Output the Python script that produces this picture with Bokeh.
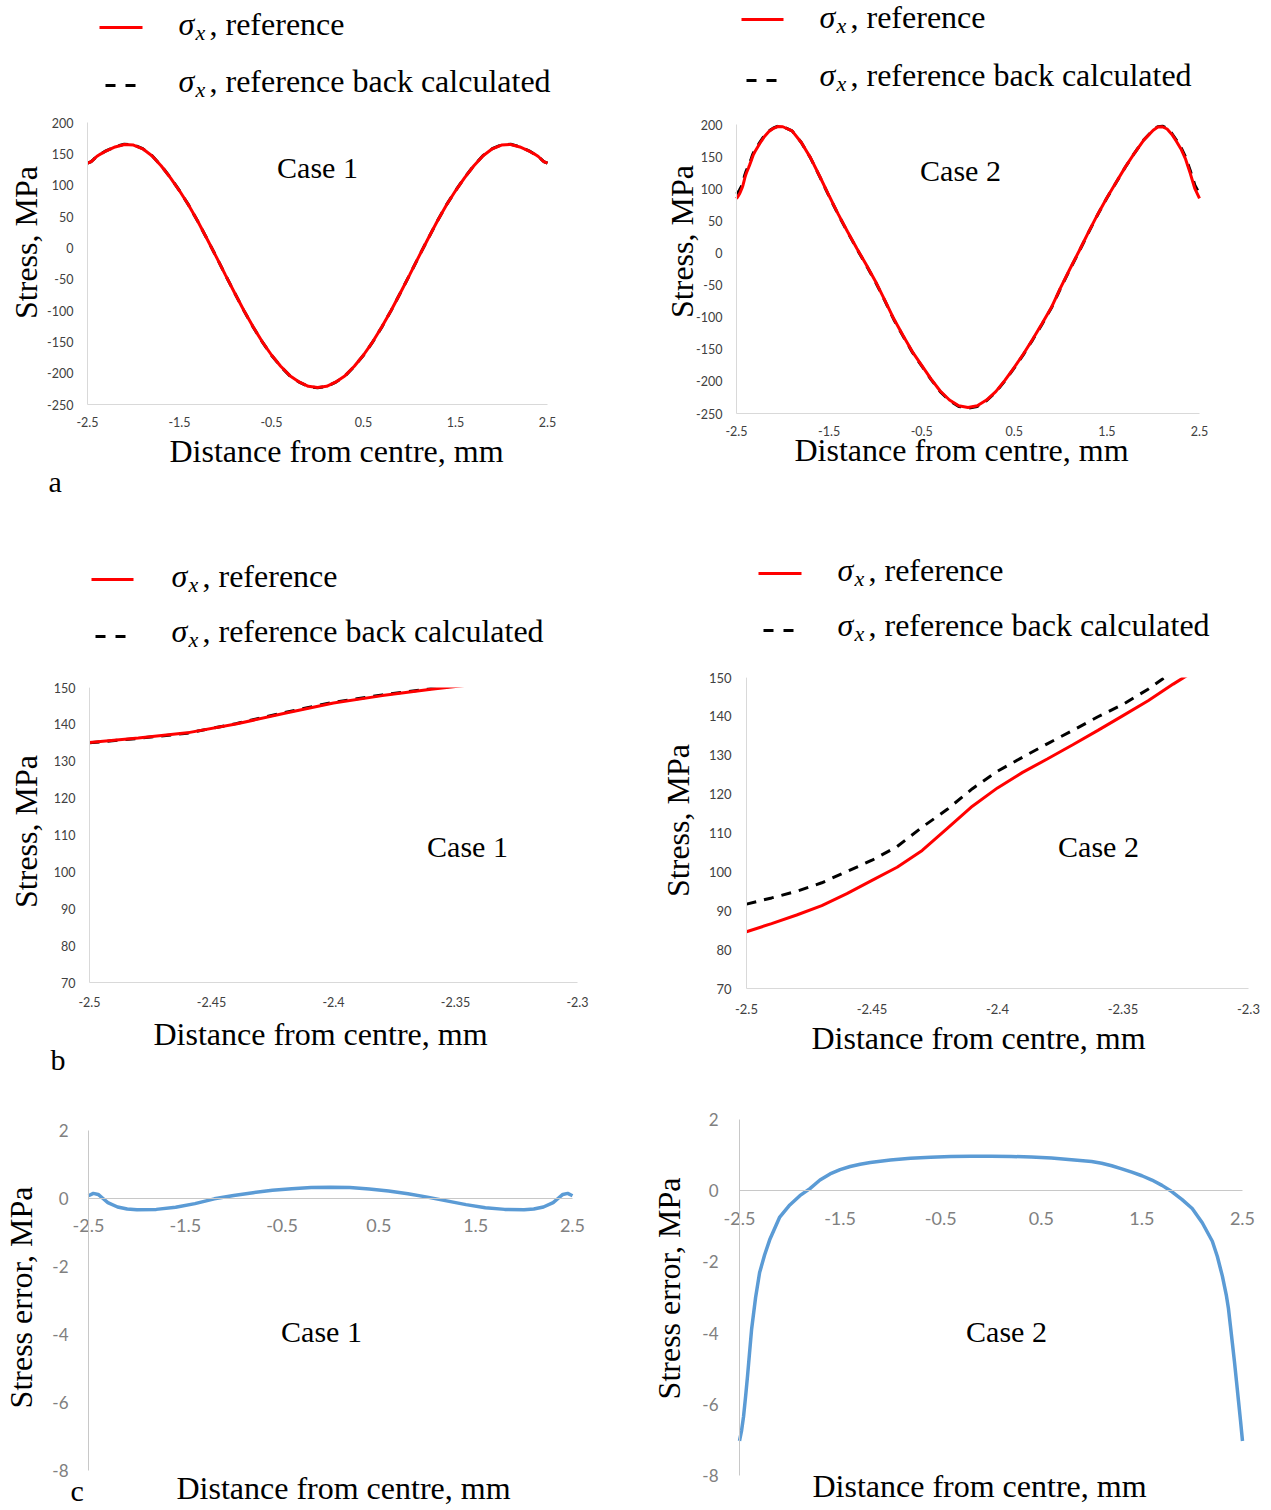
import math
from bokeh.plotting import figure
from bokeh.layouts import column, row
from bokeh.models import LinearAxis, FixedTicker, Range1d, BoxAnnotation
from bokeh.core.properties import value
from bokeh.embed import file_html
from bokeh.resources import INLINE

SERIF = "Liberation Serif"
SANS = "Lato"
RED = "#ff0000"
BLUE = "#5b9bd5"

# ---------------- data ----------------
# Case 1: sigma_x reference / back calculated (MPa) vs distance (mm)
x_case1 = [-2.5, -2.48, -2.46, -2.44, -2.42, -2.40, -2.38, -2.36, -2.34, -2.3,
           -2.2, -2.1, -2.0, -1.9, -1.8, -1.7, -1.6, -1.5, -1.4, -1.3, -1.2, -1.1,
           -1.0, -0.9, -0.8, -0.7, -0.6, -0.5, -0.4, -0.3, -0.2, -0.1, 0.0,
           0.1, 0.2, 0.3, 0.4, 0.5, 0.6, 0.7, 0.8, 0.9, 1.0, 1.1, 1.2, 1.3, 1.4,
           1.5, 1.6, 1.7, 1.8, 1.9, 2.0, 2.1, 2.2, 2.3, 2.34, 2.36, 2.38, 2.40,
           2.42, 2.44, 2.46, 2.48, 2.5]
ref_case1 = [135.1, 136.3, 137.7, 140.1, 143.0, 145.8, 147.8, 149.5, 151.0, 154.5,
             161.0, 165.0, 164.0, 158.0, 147.0, 131.0, 112.0, 91.0, 68.0, 42.0, 14.0, -14.5,
             -43.5, -72.0, -100.0, -126.0, -150.0, -171.0, -189.0, -204.0, -214.0, -221.0, -223.0,
             -221.0, -214.0, -204.0, -189.0, -171.0, -150.0, -126.0, -100.0, -72.0, -43.5, -14.5, 14.0, 42.0, 68.0,
             91.0, 112.0, 131.0, 147.0, 158.0, 164.0, 165.0, 161.0, 154.5, 151.0, 149.5, 147.8, 145.8,
             143.0, 140.1, 137.7, 136.3, 135.1]
back_case1 = [135.0, 136.2, 137.6, 140.2, 143.2, 146.0, 148.0, 149.7, 151.2, 154.7,
              161.3, 165.3, 164.3, 158.3, 147.3, 131.3, 112.2, 91.2, 68.1, 42.0, 14.0, -14.4,
              -43.6, -72.1, -100.2, -126.2, -150.2, -171.3, -189.3, -204.3, -214.3, -221.3, -223.3,
              -221.3, -214.3, -204.3, -189.3, -171.3, -150.2, -126.2, -100.2, -72.1, -43.6, -14.4, 14.0, 42.0, 68.1,
              91.2, 112.2, 131.3, 147.3, 158.3, 164.3, 165.3, 161.3, 154.7, 151.2, 149.7, 148.0, 146.0,
              143.2, 140.2, 137.6, 136.2, 135.0]

# Case 2
x_case2 = [-2.5, -2.49, -2.48, -2.47, -2.46, -2.45, -2.44, -2.43, -2.42, -2.41,
           -2.40, -2.39, -2.38, -2.37, -2.36, -2.35, -2.34, -2.33, -2.32, -2.3,
           -2.25, -2.2, -2.15, -2.1, -2.05, -2.0, -1.9, -1.8, -1.7, -1.6, -1.5,
           -1.4, -1.3, -1.2, -1.1, -1.0, -0.9, -0.8, -0.7, -0.6, -0.5, -0.4,
           -0.3, -0.2, -0.1, 0.0, 0.1, 0.2, 0.3, 0.4, 0.5, 0.6, 0.7, 0.8, 0.9,
           1.0, 1.1, 1.2, 1.3, 1.4, 1.5, 1.6, 1.7, 1.8, 1.9, 2.0, 2.05, 2.1,
           2.15, 2.2, 2.25, 2.3, 2.35, 2.4, 2.45, 2.5]
ref_case2 = [84.6, 86.7, 88.9, 91.3, 94.4, 97.8, 101.2, 105.5, 111.2, 116.9,
             121.6, 125.6, 129.1, 132.7, 136.4, 140.2, 144.0, 148.3, 152.3, 158.0,
             170.0, 181.0, 189.0, 194.0, 197.0, 196.5, 190.0, 172.0, 148.0, 119.0, 89.0,
             60.0, 33.0, 7.0, -18.0, -44.0, -73.0, -103.0, -129.0, -154.0, -175.0, -196.0,
             -215.0, -229.0, -238.0, -240.6, -238.0, -229.0, -216.0, -198.0, -178.0, -157.0, -134.0, -110.0, -85.0,
             -54.0, -25.0, 3.0, 32.0, 60.0, 86.0, 110.0, 134.0, 156.0, 176.0, 191.0, 196.0, 196.5,
             193.0, 185.0, 174.0, 162.0, 146.0, 124.0, 100.0, 85.0]
back_case2 = [91.7, 93.3, 95.0, 97.2, 100.1, 103.0, 106.5, 111.5, 116.1, 121.4,
              125.9, 129.5, 133.0, 136.4, 139.9, 143.1, 147.0, 151.5, 155.0, 160.3,
              171.8, 182.4, 189.9, 194.7, 197.4, 196.7, 190.1, 171.9, 147.7, 118.5, 88.4,
              59.3, 32.3, 6.2, -18.8, -44.9, -73.9, -103.9, -129.9, -154.9, -175.9, -196.9,
              -215.9, -230.0, -239.0, -241.6, -239.0, -230.0, -216.9, -198.9, -178.9, -157.9, -134.9, -110.9, -85.8,
              -54.8, -25.8, 2.3, 31.4, 59.5, 85.6, 109.7, 133.9, 156.0, 176.3, 191.5, 196.7, 197.4,
              194.2, 186.4, 175.9, 164.4, 149.2, 128.3, 105.6, 92.0]

# Stress error (MPa)
x_err1 = [-2.5, -2.45, -2.4, -2.35, -2.3, -2.2, -2.1, -2.0, -1.8, -1.6, -1.4, -1.2,
          -1.0, -0.8, -0.6, -0.4, -0.2, 0.0, 0.2, 0.4, 0.6, 0.8, 1.0, 1.2, 1.4,
          1.6, 1.8, 2.0, 2.1, 2.2, 2.3, 2.35, 2.4, 2.45, 2.5]
err_case1 = [0.08, 0.15, 0.12, 0.0, -0.12, -0.25, -0.31, -0.33, -0.32, -0.26, -0.15, -0.01,
             0.09, 0.17, 0.24, 0.29, 0.32, 0.33, 0.32, 0.28, 0.22, 0.14, 0.04, -0.07, -0.18,
             -0.27, -0.32, -0.33, -0.31, -0.25, -0.12, 0.0, 0.12, 0.15, 0.08]

x_err2 = [-2.5, -2.48, -2.46, -2.44, -2.42, -2.40, -2.38, -2.36, -2.34, -2.3, -2.25,
          -2.2, -2.1, -2.0, -1.9, -1.8, -1.7, -1.6, -1.5, -1.4, -1.3, -1.2, -1.0,
          -0.8, -0.6, -0.4, -0.2, 0.0, 0.2, 0.4, 0.6, 0.8, 1.0, 1.1, 1.2, 1.3, 1.4, 1.5,
          1.6, 1.7, 1.8, 1.9, 2.0, 2.1, 2.2, 2.25, 2.3, 2.34, 2.36, 2.38, 2.40,
          2.42, 2.44, 2.46, 2.48, 2.5]
err_case2 = [-7.03, -6.75, -6.35, -5.8, -5.2, -4.55, -3.9, -3.45, -3.0, -2.3, -1.8,
             -1.38, -0.74, -0.4, -0.14, 0.06, 0.3, 0.47, 0.59, 0.68, 0.745, 0.79, 0.86,
             0.91, 0.94, 0.96, 0.97, 0.97, 0.96, 0.95, 0.92, 0.87, 0.82, 0.77, 0.7, 0.615, 0.52, 0.42,
             0.3, 0.15, -0.03, -0.25, -0.5, -0.9, -1.42, -1.85, -2.4, -2.95, -3.3, -3.8, -4.3,
             -4.8, -5.35, -5.9, -6.45, -7.03]

# tick values / labels
xt_full = [-2.5, -1.5, -0.5, 0.5, 1.5, 2.5]
xt_full_labels = ["-2.5", "-1.5", "-0.5", "0.5", "1.5", "2.5"]
yt_stress = [-250, -200, -150, -100, -50, 0, 50, 100, 150, 200]
yt_stress_labels = ["-250", "-200", "-150", "-100", "-50", "0", "50", "100", "150", "200"]
xt_zoom = [-2.5, -2.45, -2.4, -2.35, -2.3]
xt_zoom_labels = ["-2.5", "-2.45", "-2.4", "-2.35", "-2.3"]
yt_zoom = [70, 80, 90, 100, 110, 120, 130, 140, 150]
yt_zoom_labels = ["70", "80", "90", "100", "110", "120", "130", "140", "150"]
yt_err = [-8, -6, -4, -2, 0, 2]
yt_err_labels = ["-8", "-6", "-4", "-2", "0", "2"]

legend_ref = ", reference"
legend_back = ", reference back calculated"
title_x = "Distance from centre, mm"
title_y = "Stress, MPa"
title_y_err = "Stress error, MPa"

BASE_SHIFT = 0.36  # em offset so that the given Y is the visual text baseline


# ---------------- helpers ----------------
class Block:
    """One figure whose frame fills the whole block; the data box sits at a
    given pixel rectangle inside it (page pixels, origin top-left)."""

    def __init__(self, ox, oy, w, h, fbox, xr, yr):
        X0, X1, Y0, Y1 = fbox
        self.X0, self.Y0 = X0, Y0
        self.xmin, self.xmax = xr
        self.ymin, self.ymax = yr
        self.sx = (xr[1] - xr[0]) / (X1 - X0)
        self.sy = (yr[1] - yr[0]) / (Y1 - Y0)
        xs = xr[0] - (X0 - ox) * self.sx
        xe = xr[1] + (ox + w - X1) * self.sx
        ye = yr[1] + (Y0 - oy) * self.sy
        ys = yr[0] - (oy + h - Y1) * self.sy
        p = figure(width=w, height=h, x_range=Range1d(xs, xe), y_range=Range1d(ys, ye),
                   min_border=0, x_axis_location=None, y_axis_location=None,
                   toolbar_location=None, output_backend="svg", title=None)
        p.outline_line_color = None
        p.grid.visible = False
        p.background_fill_color = "white"
        p.border_fill_color = "white"
        self.p = p

    def d(self, X, Y):
        return (self.xmin + (X - self.X0) * self.sx, self.ymax - (Y - self.Y0) * self.sy)

    def axes(self, xt, xl, yt, yl, xsize, ysize, color, xstand, ystand,
             line_color, x_at=None):
        xa = LinearAxis(fixed_location=self.ymin if x_at is None else x_at,
                        bounds=(self.xmin, self.xmax))
        ya = LinearAxis(fixed_location=self.xmin, bounds=(self.ymin, self.ymax))
        for ax, ticks, labels, size, stand in (
                (xa, xt, xl, xsize, xstand), (ya, yt, yl, ysize, ystand)):
            ax.ticker = FixedTicker(ticks=ticks)
            ax.major_label_overrides = {t: s for t, s in zip(ticks, labels)}
            ax.major_tick_out = 0
            ax.major_tick_in = 0
            ax.minor_tick_out = 0
            ax.minor_tick_in = 0
            ax.major_tick_line_color = None
            ax.minor_tick_line_color = None
            ax.axis_line_color = line_color
            ax.axis_line_width = 1
            ax.major_label_text_font = SANS
            ax.major_label_text_font_size = size
            ax.major_label_text_color = color
            ax.major_label_standoff = stand
        self.p.add_layout(xa, "below")
        self.p.add_layout(ya, "left")

    def text(self, X, Y, txt, size, style="normal", align="left", angle=0.0):
        # Y is the visual baseline in page pixels
        x, y = self.d(X, Y - BASE_SHIFT * size)
        self.p.text(x=[x], y=[y], text=[txt], text_font=value(SERIF),
                    text_font_size=value(f"{size}px"), text_font_style=style,
                    text_align=align, text_baseline="alphabetic", angle=angle,
                    text_color="black", level="overlay")

    def vtitle(self, X, Y, txt, size):
        x, y = self.d(X, Y)
        self.p.text(x=[x], y=[y], text=[txt], text_font=value(SERIF),
                    text_font_size=value(f"{size}px"), text_align="center",
                    text_baseline="middle", angle=math.pi / 2,
                    text_color="black", level="overlay")

    def legend_entry(self, X0, X1, Yl, color, dash, Xt, Yb, txt):
        xa, ya = self.d(X0, Yl)
        xb, _ = self.d(X1, Yl)
        self.p.line(x=[xa, xb], y=[ya, ya], line_color=color, line_width=3,
                    line_dash=dash, level="overlay")
        self.text(Xt, Yb, "σ", 32, style="italic")
        self.text(Xt + 17, Yb + 4.5, "x", 22, style="italic")
        self.text(Xt + 31, Yb, txt, 32)


# ---------------- panel a (case 1 full) ----------------
A = Block(0, 0, 648, 520, (87, 547, 122, 404), (-2.5, 2.5), (-250, 200))
A.axes(xt_full, xt_full_labels, yt_stress, yt_stress_labels,
       "12.5px", "12.5px", "#404040", 12, 14, "#d9d9d9")
A.p.line(x_case1, back_case1, line_color="black", line_width=3, line_dash="10 8")
A.p.line(x_case1, ref_case1, line_color=RED, line_width=3)
A.legend_entry(99, 142, 27, RED, "solid", 178, 35, legend_ref)
A.legend_entry(105, 135, 85, "black", "10 10", 178, 92, legend_back)
A.vtitle(25, 242, title_y, 32)
A.text(336, 462, title_x, 32, align="center")
A.text(317, 178, "Case 1", 30, align="center")
A.text(48, 492, "a", 30)

# ---------------- panel a2 (case 2 full) ----------------
A2 = Block(648, 0, 615, 520, (736, 1199, 124, 413), (-2.5, 2.5), (-250, 200))
A2.axes(xt_full, xt_full_labels, yt_stress, yt_stress_labels,
        "12.5px", "12.5px", "#404040", 12, 14, "#d9d9d9")
A2.p.line(x_case2, back_case2, line_color="black", line_width=3, line_dash="10 8")
A2.p.line(x_case2, ref_case2, line_color=RED, line_width=3)
A2.legend_entry(741, 783, 19, RED, "solid", 819, 28, legend_ref)
A2.legend_entry(746, 776, 80, "black", "10 10", 819, 86, legend_back)
A2.vtitle(681, 241, title_y, 32)
A2.text(961, 461, title_x, 32, align="center")
A2.text(960, 181, "Case 2", 30, align="center")

# ---------------- panel b (case 1 zoom) ----------------
B = Block(0, 520, 648, 555, (89, 577, 687, 982), (-2.5, -2.3), (70, 150))
B.axes(xt_zoom, xt_zoom_labels, yt_zoom, yt_zoom_labels,
       "12.5px", "12.5px", "#404040", 14, 14, "#d9d9d9")
B.p.line(x_case1, back_case1, line_color="black", line_width=3, line_dash="10 8")
B.p.line(x_case1, ref_case1, line_color=RED, line_width=3)
B.p.add_layout(BoxAnnotation(left=-2.5, right=-2.2, bottom=150, top=175,
                             fill_color="white", fill_alpha=1.0, line_alpha=0.0,
                             level="annotation"))
B.legend_entry(91, 133, 579, RED, "solid", 171, 587, legend_ref)
B.legend_entry(95, 125, 636, "black", "10 10", 171, 642, legend_back)
B.vtitle(25, 831, title_y, 32)
B.text(320, 1045, title_x, 32, align="center")
B.text(467, 857, "Case 1", 30, align="center")
B.text(50, 1070, "b", 30)

# ---------------- panel b2 (case 2 zoom) ----------------
B2 = Block(648, 520, 615, 555, (746, 1248, 677, 988), (-2.5, -2.3), (70, 150))
B2.axes(xt_zoom, xt_zoom_labels, yt_zoom, yt_zoom_labels,
        "13px", "13px", "#404040", 15, 15, "#d9d9d9")
B2.p.line(x_case2, back_case2, line_color="black", line_width=3, line_dash="10 8")
B2.p.line(x_case2, ref_case2, line_color=RED, line_width=3)
B2.p.add_layout(BoxAnnotation(left=-2.5, right=-2.2, bottom=150, top=175,
                              fill_color="white", fill_alpha=1.0, line_alpha=0.0,
                              level="annotation"))
B2.legend_entry(758, 801, 573, RED, "solid", 837, 581, legend_ref)
B2.legend_entry(763, 793, 630, "black", "10 10", 837, 636, legend_back)
B2.vtitle(677, 820, title_y, 32)
B2.text(978, 1049, title_x, 32, align="center")
B2.text(1098, 857, "Case 2", 30, align="center")

# ---------------- panel c (case 1 error) ----------------
C = Block(0, 1075, 648, 433, (88, 572, 1130, 1470), (-2.5, 2.5), (-8, 2))
C.axes(xt_full, xt_full_labels, yt_err, yt_err_labels,
       "18px", "17px", "#808080", 20, 20, "#c8c8c8", x_at=0)
C.p.line(x_err1, err_case1, line_color=BLUE, line_width=3.5)
C.vtitle(20, 1297, title_y_err, 32)
C.text(343, 1499, title_x, 32, align="center")
C.text(321, 1342, "Case 1", 30, align="center")
C.text(70, 1501, "c", 30)

# ---------------- panel c2 (case 2 error) ----------------
C2 = Block(648, 1075, 615, 433, (739, 1242, 1119, 1475), (-2.5, 2.5), (-8, 2))
C2.axes(xt_full, xt_full_labels, yt_err, yt_err_labels,
        "18px", "17px", "#808080", 21, 21, "#c8c8c8", x_at=0)
C2.p.line(x_err2, err_case2, line_color=BLUE, line_width=3.5)
C2.vtitle(668, 1288, title_y_err, 32)
C2.text(979, 1497, title_x, 32, align="center")
C2.text(1006, 1342, "Case 2", 30, align="center")

layout = column(row(A.p, A2.p, spacing=0), row(B.p, B2.p, spacing=0),
                row(C.p, C2.p, spacing=0), spacing=0)

open("out.html", "w").write(file_html(layout, INLINE))
